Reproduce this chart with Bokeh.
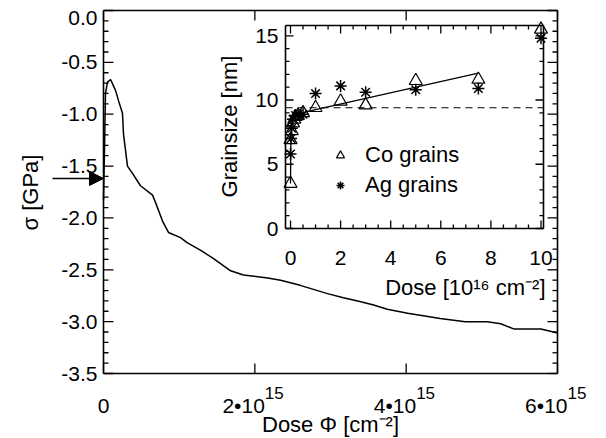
import numpy as np
from bokeh.plotting import figure
from bokeh.models import Range1d, Arrow, NormalHead, Legend, LegendItem
from bokeh.core.properties import value
from bokeh.embed import file_html
from bokeh.resources import INLINE

# ---------------- data ----------------
# main panel: stress vs dose (dose in cm^-2, sigma in GPa)
dose = [0.0, 0.013e15, 0.026e15, 0.053e15, 0.093e15, 0.159e15, 0.211e15, 0.251e15,
        0.264e15, 0.317e15, 0.383e15, 0.489e15, 0.648e15, 0.687e15, 0.78e15,
        0.859e15, 1.017e15, 1.11e15, 1.28e15, 1.45e15, 1.68e15, 1.85e15, 2.17e15,
        2.34e15, 2.60e15, 2.96e15, 3.17e15, 3.36e15, 3.57e15, 3.75e15, 4.02e15,
        4.45e15, 4.78e15, 5.07e15, 5.25e15, 5.42e15, 5.78e15, 6.0e15]
sigma = [-1.83, -1.35, -0.80, -0.69, -0.665, -0.77, -0.90, -0.99,
         -1.19, -1.50, -1.57, -1.69, -1.78, -1.85, -2.03,
         -2.14, -2.19, -2.24, -2.31, -2.39, -2.51, -2.55, -2.58,
         -2.60, -2.65, -2.73, -2.77, -2.80, -2.84, -2.88, -2.92,
         -2.97, -3.00, -3.00, -3.02, -3.07, -3.07, -3.11]
arrow_sigma = -1.62          # initial stress marked by the arrow
arrow_from = -0.674e15

main_xrange = (0.0, 6e15)
main_yrange = (-3.5, 0.0)
main_xticks = [0.0, 2e15, 4e15, 6e15]
main_xbase = ["0", "2\u202210", "4\u202210", "6\u202210"]
main_xsup = ["", "15", "15", "15"]
main_yticks = [-3.5, -3.0, -2.5, -2.0, -1.5, -1.0, -0.5, 0.0]
main_ylabels = ["-3.5", "-3.0", "-2.5", "-2.0", "-1.5", "-1.0", "-0.5", "0.0"]
main_yminor = [float(t) for t in np.round(np.arange(-3.5, 0.001, 0.1), 2) if t not in main_yticks]
main_xtitle = "Dose \u03a6 [cm\u207b\u00b2]"
main_ytitle = "\u03c3 [GPa]"

# inset: grain size vs dose (10^16 cm^-2)
co_dose = [0, 0, 0.05, 0.1, 0.15, 0.2, 0.3, 0.5, 1, 2, 3, 5, 7.5, 10]
co_size = [3.5, 6.9, 7.6, 8.2, 8.5, 8.7, 8.8, 9.0, 9.4, 9.9, 9.6, 11.5, 11.6, 15.5]
ag_dose = [0, 0.02, 0.05, 0.1, 0.2, 0.3, 0.5, 1, 2, 3, 5, 7.5, 10]
ag_size = [5.8, 7.0, 7.8, 8.5, 8.8, 8.9, 8.9, 10.5, 11.1, 10.6, 10.8, 10.9, 14.8]
fit_dose = [0, 0.02, 0.1, 0.3, 0.6, 1.0, 7.5]
fit_size = [3.5, 8.0, 8.6, 8.9, 9.05, 9.25, 12.1]
ref_size = 9.4

in_xrange = (-0.2, 10.1)
in_yrange = (0.0, 15.8)
in_xticks = [0, 2, 4, 6, 8, 10]
in_xlabels = ["0", "2", "4", "6", "8", "10"]
in_xminor = [float(t) for t in np.arange(0, 10.01, 0.5) if t not in in_xticks]
in_yticks = [0, 5, 10, 15]
in_ylabels = ["0", "5", "10", "15"]
in_yminor = [t for t in range(0, 16) if t not in in_yticks]
in_xtitle = "Dose [10\u00b9\u2076 cm\u207b\u00b2]"
in_ytitle = "Grainsize [nm]"
legend_labels = ["Co grains", "Ag grains"]

# ---------------- layout (pixels) ----------------
W, H = 606, 438
M_L, M_R, M_B, M_T = 103, 557, 373, 10      # main frame
I_L, I_R, I_B, I_T = 285, 543, 228, 25      # inset frame

FONT = "Liberation Sans"
FS_TICK = "21px"
FS_SUP = "17px"
FS_TITLE = "22px"
SOLID = "2000 1"          # a dash pattern that draws as a solid line


def px_map(d0, d1, p0, p1):
    """pixel -> data map: data d0 sits at pixel p0, d1 at pixel p1"""
    s = (d1 - d0) / (p1 - p0)
    return lambda px: d0 + (px - p0) * s


mx = px_map(main_xrange[0], main_xrange[1], M_L, M_R)
my = px_map(main_yrange[0], main_yrange[1], M_B, M_T)
ix = px_map(in_xrange[0], in_xrange[1], I_L, I_R)
iy = px_map(in_yrange[0], in_yrange[1], I_B, I_T)

p = figure(width=W, height=H, output_backend="svg", toolbar_location=None,
           x_range=Range1d(mx(0), mx(W)), y_range=Range1d(my(H), my(0)),
           x_axis_type=None, y_axis_type=None, min_border=0,
           outline_line_color=None, background_fill_color="white",
           border_fill_color="white")
p.extra_x_ranges = {"ix": Range1d(ix(0), ix(W))}
p.extra_y_ranges = {"iy": Range1d(iy(H), iy(0))}
INSET = dict(x_range_name="ix", y_range_name="iy")


def text(xs, ys, labels, size=FS_TICK, align="center", baseline="middle",
         angle=0.0, x_offset=0, **kw):
    p.text(x=xs, y=ys, text=labels, text_font=value(FONT), text_font_size=size,
           text_color="black", text_align=align, text_baseline=baseline,
           angle=angle, x_offset=x_offset, **kw)


def frame(xr, yr, px_x, px_y, xmaj, xmin, ymaj, ymin, lmaj, lmin, **kw):
    """four box sides plus inward ticks, each an open two-point line"""
    for xa, xb, ya, yb in ((xr[0], xr[1], yr[0], yr[0]), (xr[1], xr[1], yr[0], yr[1]),
                           (xr[1], xr[0], yr[1], yr[1]), (xr[0], xr[0], yr[1], yr[0])):
        p.line([xa, xb], [ya, yb], line_color="black", line_width=1.6,
               line_dash=SOLID, **kw)
    sx = (xr[1] - xr[0]) / (px_x[1] - px_x[0])      # data per pixel
    sy = (yr[1] - yr[0]) / (px_y[0] - px_y[1])
    for ticks, ln in ((ymaj, lmaj), (ymin, lmin)):
        for t in ticks:
            p.line([xr[0], xr[0] + ln * sx], [t, t], line_color="black",
                   line_width=1.3, line_dash=SOLID, **kw)
            p.line([xr[1], xr[1] - ln * sx], [t, t], line_color="black",
                   line_width=1.3, line_dash=SOLID, **kw)
    for ticks, ln in ((xmaj, lmaj), (xmin, lmin)):
        for t in ticks:
            p.line([t, t], [yr[0], yr[0] + ln * sy], line_color="black",
                   line_width=1.3, line_dash=SOLID, **kw)
            p.line([t, t], [yr[1], yr[1] - ln * sy], line_color="black",
                   line_width=1.3, line_dash=SOLID, **kw)


# ---------------- main panel ----------------
frame(main_xrange, main_yrange, (M_L, M_R), (M_B, M_T),
      main_xticks, [], main_yticks, main_yminor, 10, 5)
p.line(dose, sigma, line_color="black", line_width=1.5)

# y tick labels (the two end labels are kept inside the frame height)
text([main_xrange[0]] * 6, main_yticks[1:-1], main_ylabels[1:-1], align="right", x_offset=-6)
text([main_xrange[0]], main_yticks[:1], main_ylabels[:1], align="right",
     baseline="alphabetic", x_offset=-6)
text([main_xrange[0]], main_yticks[-1:], main_ylabels[-1:], align="right",
     baseline="top", x_offset=-6)
# x tick labels  (mantissa + raised exponent)
text(main_xticks[:1], [my(405)], main_xbase[:1], baseline="alphabetic")
text(main_xticks[1:], [my(405)] * 3, main_xbase[1:], align="right",
     baseline="alphabetic", x_offset=10)
text(main_xticks[1:], [my(392)] * 3, main_xsup[1:], size=FS_SUP, align="left",
     baseline="alphabetic", x_offset=10)
# axis titles
text([mx(330)], [my(424)], [main_xtitle], size=FS_TITLE, baseline="alphabetic")
text([mx(30)], [my(192)], [main_ytitle], size=FS_TITLE, angle=np.pi / 2)

p.add_layout(Arrow(end=NormalHead(size=14, fill_color="black", line_color="black"),
                   x_start=arrow_from, y_start=arrow_sigma,
                   x_end=main_xrange[0], y_end=arrow_sigma,
                   line_color="black", line_width=1.3))

# ---------------- inset ----------------
frame(in_xrange, in_yrange, (I_L, I_R), (I_B, I_T),
      in_xticks, in_xminor, in_yticks, in_yminor, 8, 4, **INSET)
p.line(list(in_xrange), [ref_size, ref_size], line_color="black", line_width=1.2,
       line_dash="7 5", **INSET)
p.line(fit_dose, fit_size, line_color="black", line_width=1.3, **INSET)
r_co = p.scatter(co_dose, co_size, marker="triangle", size=13, fill_color=None,
                 line_color="black", line_width=1.2, **INSET)
r_ag = p.scatter(ag_dose, ag_size, marker="asterisk", size=12,
                 line_color="black", line_width=1.5, **INSET)

text(in_xticks, [iy(257)] * len(in_xticks), in_xlabels, baseline="alphabetic", **INSET)
text([in_xrange[0]] * 3, in_yticks[1:], in_ylabels[1:], align="right", x_offset=-7, **INSET)
text([in_xrange[0]], in_yticks[:1], in_ylabels[:1], align="right", baseline="alphabetic",
     x_offset=-7, **INSET)
text([ix(545)], [iy(287)], [in_xtitle], size=FS_TITLE, align="right",
     baseline="alphabetic", **INSET)
text([ix(229)], [iy(126)], [in_ytitle], size=FS_TITLE, angle=np.pi / 2, **INSET)

leg = Legend(items=[LegendItem(label=legend_labels[0], renderers=[r_co]),
                    LegendItem(label=legend_labels[1], renderers=[r_ag])],
             location=(330, H - 200), padding=0, margin=0, spacing=0,
             glyph_width=20, glyph_height=30, label_height=30, label_standoff=15,
             border_line_color=None, background_fill_alpha=0,
             label_text_font=FONT, label_text_font_size=FS_TITLE, label_text_color="black")
p.add_layout(leg)

open("out.html", "w").write(file_html(p, INLINE))
